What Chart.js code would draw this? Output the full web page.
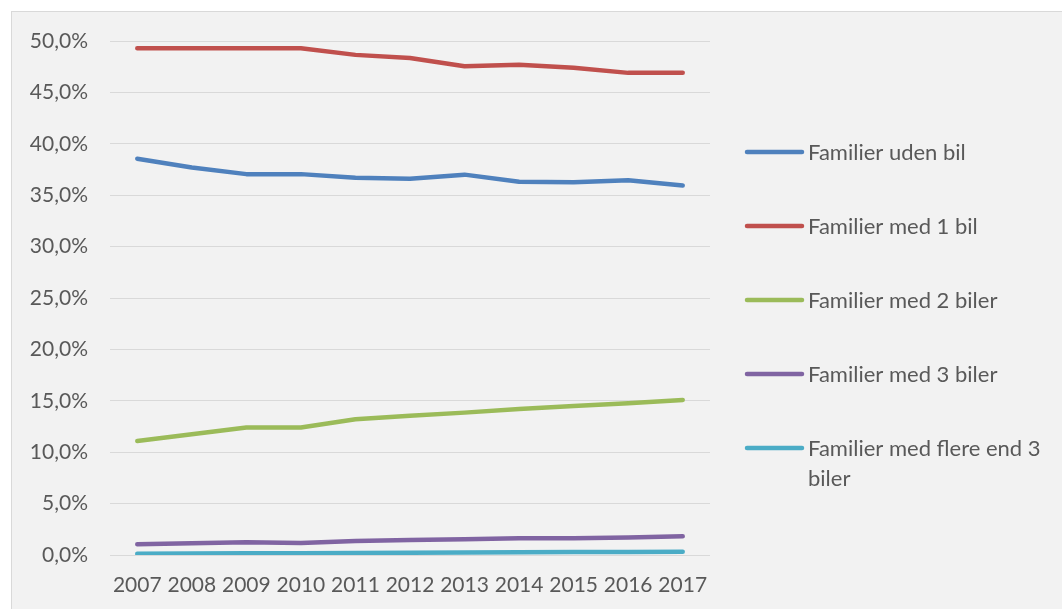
<!DOCTYPE html>
<html>
<head>
<meta charset="utf-8">
<script src="https://cdn.jsdelivr.net/npm/chart.js@4.4.1/dist/chart.umd.min.js"></script>
<style>
  html, body { margin: 0; padding: 0; background: #ffffff; }
  #wrap { width: 1062px; height: 609px; position: relative; }
  canvas { display: block; }
</style>
</head>
<body>
<div id="wrap"><canvas id="c" width="1062" height="609"></canvas></div>
<script>
const years = ['2007','2008','2009','2010','2011','2012','2013','2014','2015','2016','2017'];
const udenBil   = [38.55, 37.7, 37.05, 37.05, 36.7, 36.6, 37.0, 36.3, 36.25, 36.45, 35.95];
const med1Bil   = [49.3, 49.3, 49.3, 49.3, 48.65, 48.35, 47.55, 47.7, 47.4, 46.9, 46.9];
const med2Biler = [11.1, 11.75, 12.4, 12.4, 13.2, 13.55, 13.85, 14.2, 14.5, 14.75, 15.08];
const med3Biler = [1.05, 1.15, 1.23, 1.17, 1.36, 1.46, 1.53, 1.62, 1.63, 1.7, 1.82];
const flereEnd3 = [0.13, 0.15, 0.16, 0.17, 0.2, 0.22, 0.25, 0.27, 0.28, 0.3, 0.32];
const seriesLabels = ['Familier uden bil','Familier med 1 bil','Familier med 2 biler','Familier med 3 biler','Familier med flere end 3 biler'];
const legendLines = [['Familier uden bil'],['Familier med 1 bil'],['Familier med 2 biler'],['Familier med 3 biler'],['Familier med flere end 3','biler']];
const colors = ['#4f81bd','#c0504d','#9bbb59','#8064a2','#4bacc6'];
const yTicks = [0,5,10,15,20,25,30,35,40,45,50];

const FONT = 'Lato, "Open Sans", sans-serif';
const TEXT = '#595959';

const bgPlugin = {
  id: 'bg',
  beforeDraw(chart) {
    const ctx = chart.ctx;
    ctx.save();
    ctx.fillStyle = '#ffffff';
    ctx.fillRect(0, 0, chart.width, chart.height);
    ctx.fillStyle = '#f2f2f2';
    ctx.fillRect(11, 11, chart.width - 11, chart.height - 11);
    ctx.strokeStyle = '#d9d9d9';
    ctx.lineWidth = 1;
    ctx.strokeRect(11.5, 11.5, chart.width, chart.height);
    ctx.restore();
  }
};

const legendPlugin = {
  id: 'customLegend',
  afterDraw(chart) {
    const ctx = chart.ctx;
    const ca = chart.chartArea;
    const x0 = ca.right + 37;
    const lineLen = 55;
    const spacing = 74;
    const n = chart.data.datasets.length;
    const cy = (ca.top + ca.bottom) / 2 + 2;
    const y0 = cy - spacing * (n - 1) / 2;
    ctx.save();
    ctx.font = '22px ' + FONT;
    ctx.textBaseline = 'middle';
    ctx.textAlign = 'left';
    chart.data.datasets.forEach((ds, i) => {
      const y = y0 + i * spacing;
      ctx.strokeStyle = ds.borderColor;
      ctx.lineWidth = 4.5;
      ctx.lineCap = 'round';
      ctx.beginPath();
      ctx.moveTo(x0, y);
      ctx.lineTo(x0 + lineLen, y);
      ctx.stroke();
      ctx.fillStyle = TEXT;
      legendLines[i].forEach((t, j) => {
        ctx.fillText(t, x0 + lineLen + 6, y + 1 + j * 30);
      });
    });
    ctx.restore();
  }
};

const series = [udenBil, med1Bil, med2Biler, med3Biler, flereEnd3];

new Chart(document.getElementById('c'), {
  type: 'line',
  data: {
    labels: years,
    datasets: series.map((d, i) => ({
      label: seriesLabels[i],
      data: d,
      borderColor: colors[i],
      backgroundColor: colors[i],
      borderWidth: 4.5,
      borderCapStyle: 'round',
      borderJoinStyle: 'round',
      pointRadius: 0,
      tension: 0,
      fill: false
    }))
  },
  options: {
    responsive: false,
    animation: false,
    layout: { padding: { left: 0, right: 352, top: 41, bottom: 0 } },
    plugins: { legend: { display: false }, tooltip: { enabled: false } },
    scales: {
      x: {
        offset: true,
        grid: { display: false, drawTicks: false },
        border: { display: false },
        ticks: { color: TEXT, font: { family: FONT, size: 21 }, padding: 18, maxRotation: 0, autoSkip: false },
        afterFit(s) { s.height = 54; }
      },
      y: {
        min: 0, max: 50,
        afterBuildTicks(s) { s.ticks = yTicks.map(v => ({ value: v })); },
        grid: { color: '#d9d9d9', lineWidth: 1, drawTicks: false },
        border: { display: false },
        ticks: {
          color: TEXT, font: { family: FONT, size: 21 }, padding: 22,
          callback: v => v.toFixed(1).replace('.', ',') + '%'
        },
        afterFit(s) { s.width = 110; }
      }
    }
  },
  plugins: [bgPlugin, legendPlugin]
});
</script>
</body>
</html>
